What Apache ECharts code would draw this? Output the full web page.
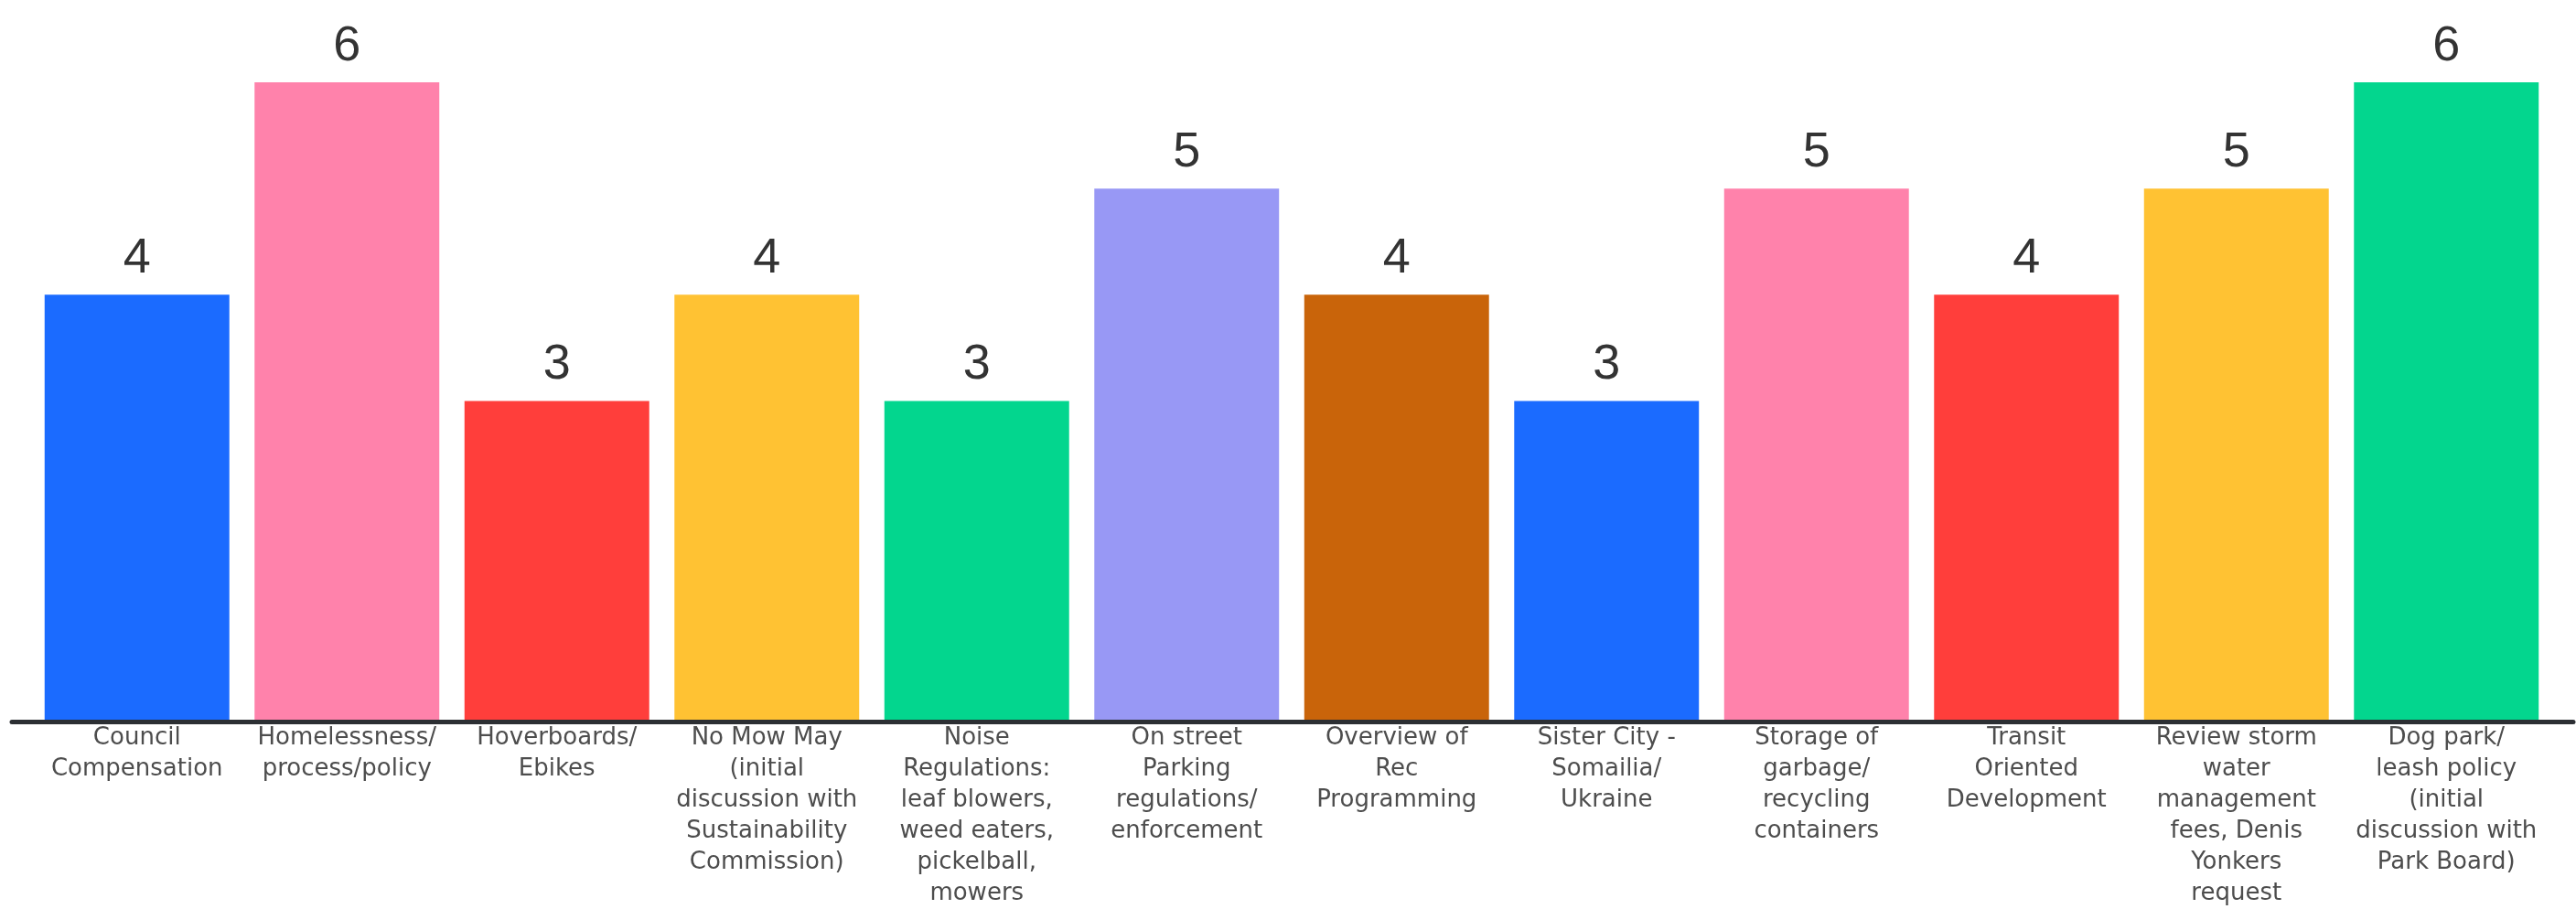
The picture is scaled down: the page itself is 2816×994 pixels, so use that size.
<!DOCTYPE html>
<html>
<head>
<meta charset="utf-8">
<title>Council topics</title>
<script src="https://cdn.jsdelivr.net/npm/echarts@6/dist/echarts.min.js"></script>
<style>
    html, body {
        margin: 0;
        padding: 0;
        background: #fff;
    }
    #topicBarChart {
        width: 2816px;
        height: 994px;
    }
</style>
</head>
<body>
<div id="topicBarChart"></div>
<script>
    // categories (line breaks as in the original)
    var categories = [
        'Council\nCompensation',
        'Homelessness/\nprocess/policy',
        'Hoverboards/\nEbikes',
        'No Mow May\n(initial\ndiscussion with\nSustainability\nCommission)',
        'Noise\nRegulations:\nleaf blowers,\nweed eaters,\npickelball,\nmowers',
        'On street\nParking\nregulations/\nenforcement',
        'Overview of\nRec\nProgramming',
        'Sister City -\nSomailia/\nUkraine',
        'Storage of\ngarbage/\nrecycling\ncontainers',
        'Transit\nOriented\nDevelopment',
        'Review storm\nwater\nmanagement\nfees, Denis\nYonkers\nrequest',
        'Dog park/\nleash policy\n(initial\ndiscussion with\nPark Board)'
    ];
    var values = [4, 6, 3, 4, 3, 5, 4, 3, 5, 4, 5, 6];

    // one colour per bar
    var barColors = ['#1b6bff', '#ff82ab', '#ff3e3b', '#ffc233', '#03d68e', '#9898f5',
        '#c9640a', '#1b6bff', '#ff82ab', '#ff3e3b', '#ffc233', '#03d68e'];

    var chart = echarts.init(document.getElementById('topicBarChart'));

    var option = {
        animation: false,
        backgroundColor: '#fff',
        grid: [
            {left: 35, right: 27, top: 90, bottom: 207},
            // only used to draw the long baseline
            {left: 13, right: 3, top: 90, bottom: 205}
        ],
        xAxis: [
            {
                type: 'category',
                gridIndex: 0,
                data: categories,
                axisLine: {show: false},
                axisTick: {show: false},
                axisLabel: {
                    interval: 0,
                    margin: 3,
                    color: '#4d4d4d',
                    fontFamily: 'DejaVu Sans',
                    fontSize: 26,
                    lineHeight: 34,
                    align: 'center'
                }
            },
            {
                type: 'value',
                gridIndex: 1,
                min: 0,
                max: 1,
                axisLine: {
                    show: true,
                    onZero: false,
                    lineStyle: {color: '#2c2f33', width: 5}
                },
                axisTick: {show: false},
                axisLabel: {show: false},
                splitLine: {show: false}
            }
        ],
        yAxis: [
            {type: 'value', gridIndex: 0, min: 0, max: 6, show: false},
            {type: 'value', gridIndex: 1, min: 0, max: 1, show: false}
        ],
        series: [{
            type: 'bar',
            xAxisIndex: 0,
            yAxisIndex: 0,
            barCategoryGap: '12%',
            data: values.map(function (v, i) {
                return {value: v, itemStyle: {color: barColors[i]}};
            }),
            label: {
                show: true,
                position: 'top',
                distance: 12,
                color: '#333',
                fontFamily: 'Liberation Sans',
                fontSize: 54
            }
        }]
    };

    chart.setOption(option);
</script>
</body>
</html>
